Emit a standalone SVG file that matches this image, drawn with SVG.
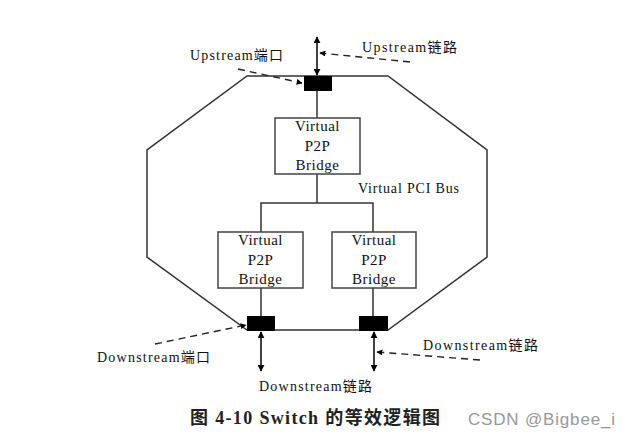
<svg xmlns="http://www.w3.org/2000/svg" width="629" height="441" viewBox="0 0 629 441">
<defs>
<marker id="ah" viewBox="0 0 10 10" refX="9" refY="5" markerWidth="7" markerHeight="7" orient="auto-start-reverse" markerUnits="userSpaceOnUse"><path d="M0,0 L10,5 L0,10 z" fill="#000"/></marker>
<marker id="ahs" viewBox="0 0 10 10" refX="9" refY="5" markerWidth="6" markerHeight="6" orient="auto" markerUnits="userSpaceOnUse"><path d="M0,0 L10,5 L0,10 z" fill="#000"/></marker>
</defs>
<style>
.ln{stroke:#333;stroke-width:1.5;fill:none}
.box{fill:#fff;stroke:#444;stroke-width:1.5}
.port{fill:#000}
.t{font-family:"Liberation Serif","Noto Sans CJK SC",serif;font-size:14px;fill:#111}
.b{font-size:15px;letter-spacing:0.5px}
.c{text-anchor:middle}
.dash{stroke:#222;stroke-width:1.4;stroke-dasharray:7,5;fill:none}
.arr{stroke:#000;stroke-width:1.5;fill:none}
</style>
<rect width="629" height="441" fill="#fff"/>
<g id="switch-outline">
<polygon class="ln" points="247,76 388,76 487,150 487,257 388,330 247,330 147,257 147,150"/>
</g>
<g id="connectors">
<line class="ln" x1="317" y1="91" x2="317" y2="118"/>
<line class="ln" x1="317" y1="174" x2="317" y2="203"/>
<polyline class="ln" points="261,232 261,203 373,203 373,232"/>
<line class="ln" x1="261" y1="288" x2="261" y2="317"/>
<line class="ln" x1="373" y1="288" x2="373" y2="317"/>
<line class="arr" x1="317" y1="37" x2="317" y2="75" marker-start="url(#ah)" marker-end="url(#ah)"/>
<line class="arr" x1="261" y1="332" x2="261" y2="371" marker-start="url(#ah)" marker-end="url(#ah)"/>
<line class="arr" x1="374" y1="332" x2="374" y2="371" marker-start="url(#ah)" marker-end="url(#ah)"/>
<line class="dash" x1="410" y1="62" x2="320" y2="53" marker-end="url(#ahs)"/>
<line class="dash" x1="238" y1="69" x2="302" y2="83" marker-end="url(#ahs)"/>
<line class="dash" x1="155" y1="344" x2="246" y2="325" marker-end="url(#ahs)"/>
<line class="dash" x1="480" y1="360" x2="377" y2="352" marker-end="url(#ahs)"/>
</g>
<g id="upstream-port"><rect class="port" x="304" y="76" width="28" height="15"/></g>
<g id="downstream-port-left"><rect class="port" x="247" y="316" width="28" height="15"/></g>
<g id="downstream-port-right"><rect class="port" x="359" y="316" width="29" height="15"/></g>
<g id="bridge-up">
<rect class="box" x="275" y="118" width="85" height="56"/>
<text class="t b c" x="317.5" y="131">Virtual</text>
<text class="t b c" x="317.5" y="151">P2P</text>
<text class="t b c" x="317.5" y="170">Bridge</text>
</g>
<g id="bridge-left">
<rect class="box" x="218" y="232" width="85" height="56"/>
<text class="t b c" x="260.5" y="245">Virtual</text>
<text class="t b c" x="260.5" y="265">P2P</text>
<text class="t b c" x="260.5" y="284">Bridge</text>
</g>
<g id="bridge-right">
<rect class="box" x="332" y="232" width="84" height="56"/>
<text class="t b c" x="374" y="245">Virtual</text>
<text class="t b c" x="374" y="265">P2P</text>
<text class="t b c" x="374" y="284">Bridge</text>
</g>
<g id="labels">
<text class="t" x="358" y="193" textLength="101">Virtual PCI Bus</text>
<text class="t" x="190" y="60" textLength="93">Upstream端口</text>
<text class="t" x="362" y="52" textLength="95">Upstream链路</text>
<text class="t" x="97" y="362" textLength="113">Downstream端口</text>
<text class="t" x="423" y="350" textLength="115">Downstream链路</text>
<text class="t" x="259" y="391" textLength="113">Downstream链路</text>
<text x="190" y="424" font-family="'Liberation Serif','Noto Sans CJK SC',serif" font-size="18" font-weight="bold" fill="#222" textLength="250">图 4-10 Switch 的等效逻辑图</text>
<text x="468" y="425" font-family="'Liberation Sans','DejaVu Sans',sans-serif" font-size="17" fill="#999" textLength="147">CSDN @Bigbee_i</text>
</g>
</svg>
